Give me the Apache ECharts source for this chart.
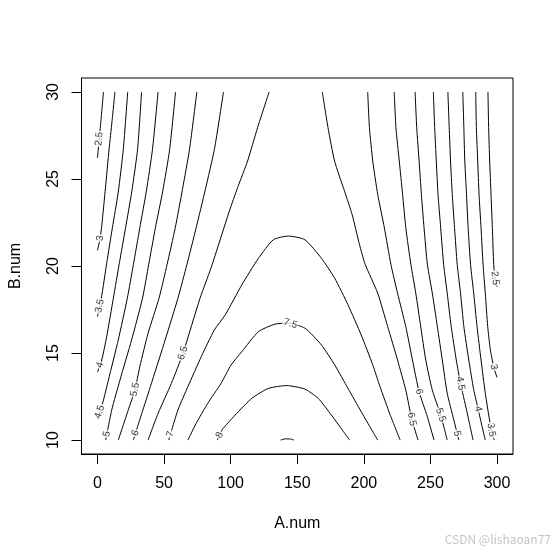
<!DOCTYPE html>
<html>
<head>
<meta charset="utf-8">
<script src="https://cdn.jsdelivr.net/npm/echarts@6/dist/echarts.min.js"></script>
<style>html,body{margin:0;padding:0;background:#fff}#main{width:553px;height:552px}</style>
</head>
<body>
<div id="main"></div>
<script>
// ---- tick values ----
const xTicks = [0, 50, 100, 150, 200, 250, 300];
const yTicks = [10, 15, 20, 25, 30];

// ---- contour lines: [A.num, B.num] ----
const c25L = [[4.5,30],[2.3,28.1],[0,26.2]];
const c30L = [[13.1,30],[10.9,28.3],[8.7,26.7],[6,24.5],[3.2,22.3],[2,21.6],[0,20.9]];
const c35L = [[22.7,30],[19.4,26.7],[15.5,24.2],[11.2,22.2],[7,20.2],[2.9,18.15],[0,17.1]];
const c40L = [[33.1,30],[30.1,26.7],[25.8,24.3],[21.1,22.2],[16.5,20.2],[11.9,18.15],[6.9,15.94],[3.2,14.6],[0,13.9]];
const c45L = [[45.5,30],[41.3,26.7],[36.7,24.3],[31.8,22.2],[27,20.1],[22.4,18.15],[15.6,15.75],[8.2,13.45],[4.5,12.3],[0,11.2]];
const c50L = [[58.6,30],[54.2,26.7],[49,24.3],[43.5,22.2],[38.5,20.1],[33.8,18.15],[25.6,15.75],[16.9,13.45],[10.7,11.73],[6.2,10]];
const c55L = [[74.6,30],[69.1,26.7],[63.8,24.4],[58.4,22.2],[52.3,20.1],[46.2,18.15],[38,16.14],[31.8,14.22],[28.1,12.88],[23.1,11.73],[15.65,10]];
const c60L = [[94.6,30],[87.8,26.7],[81,24.4],[74.1,22.2],[67.2,20.1],[60.4,18.15],[50.8,15.75],[41.3,13.45],[34.1,11.73],[30.1,10.77],[26.9,10]];
const c65L = [[128.9,30],[120.2,27.95],[112.7,26.03],[105.2,24.5],[99,23.15],[85.3,19.9],[77,18.15],[64.2,14.99],[55.5,13.26],[45.5,11.53],[38,10]];
const c70 = [[53.5,10],[60.4,11.73],[67.9,13.07],[77.9,14.79],[87.8,16.33],[96,17.2],[108.4,18.92],[120.9,20.45],[132.1,21.51],[143.3,21.72],[155.7,21.51],[168.1,20.45],[178.1,19.3],[188.1,17.77],[198,16.04],[206.7,14.32],[212,13.1],[220,11.4],[227.3,10]];
const c75 = [[67.9,10],[74.1,10.96],[82.8,12.11],[92.8,13.26],[100.2,14.3],[108.4,15.08],[120.9,16.23],[133.3,16.66],[143.3,16.72],[155.7,16.43],[168.1,15.47],[178.1,14.32],[188.1,12.97],[198,11.63],[210.4,10]];
const c80 = [[90,10],[93.5,10.58],[103.4,11.44],[115.9,12.4],[128.4,12.97],[142,13.13],[155.7,12.93],[165.7,12.4],[175.6,11.44],[189.3,10]];
const c85 = [[137.5,10],[141,10.07],[145,10.06],[147.5,10]];
const c65R = [[168.8,30],[173.1,27.95],[178,26.03],[185.5,24.3],[191.2,22.96],[196.7,21.24],[201,20.1],[210.4,18.44],[217.9,16.52],[225.3,14.6],[231.5,12.87],[236,11.2],[240.7,10]];
const c60R = [[202.9,30],[204.2,27.95],[206.7,26.03],[210.4,24.12],[215.4,22.2],[220.3,20.1],[225.3,18.44],[231.5,16.52],[236.5,14.6],[241.5,12.78],[247.7,11.34],[252.7,10]];
const c55R = [[222.8,30],[224.1,27.95],[226.6,26.03],[229.1,24.12],[231.5,22.2],[235.3,20.1],[239,18.44],[242.7,16.52],[246.5,14.6],[251.4,12.87],[257.7,11.44],[262.6,10]];
const c50R = [[238.5,30],[239.7,27.95],[241.5,26.03],[243.2,24.12],[245.2,22.2],[247.7,20.1],[251.4,18.44],[255.2,16.52],[258.9,14.6],[262.6,12.69],[267.6,11.15],[271.3,10]];
const c45R = [[252.2,30],[253.2,27.95],[254.4,26.03],[255.7,24.12],[257.7,22.2],[259.9,20.1],[262.6,18.44],[265.6,16.52],[269.4,14.6],[272.6,13.26],[277.1,11.73],[282,10]];
const c40R = [[263.1,30],[264.1,27.95],[265.1,26.03],[266.4,24.12],[268.1,22.2],[270.1,20.1],[272.6,18.44],[275.1,16.52],[278.8,14.6],[282.5,12.89],[285.8,11.79],[288.8,10.77],[291.2,10]];
const c35R = [[274.3,30],[275.1,27.95],[275.8,26.03],[277.1,24.12],[278.3,22.2],[280.1,20.1],[282.5,18.44],[285,16.52],[288,14.6],[291.2,12.69],[295.7,10.58],[298,10]];
const c30R = [[284,30],[284.5,27.95],[285.5,26.03],[286.5,24.12],[288,22.2],[289.5,20.1],[291.2,18.44],[293,16.52],[295,15.2],[297.5,14.2],[300,13.6]];
const c25R = [[293.2,30],[293.7,27.95],[294.5,26.03],[295.5,24.12],[296.5,22.2],[297.5,20.1],[298.5,19.3],[300,18.8]];

const contourLevels = [2.5,3,3.5,4,4.5,5,5.5,6,6.5,7,7.5,8,8.5,6.5,6,5.5,5,4.5,4,3.5,3,2.5];
const contourLines  = [c25L,c30L,c35L,c40L,c45L,c50L,c55L,c60L,c65L,c70,c75,c80,c85,c65R,c60R,c55R,c50R,c45R,c40R,c35R,c30R,c25R];

// ---- contour labels ----
const labelText = ['2.5','3','3.5','4','4.5','5','5.5','6','6.5','7','7.5','8','6.5','6','5.5','5','4.5','4','3.5','3','2.5'];
const labelX = [1.2,2,2,2.2,2.5,7.2,28.1,28.5,64.2,54.5,145,91.5,236,241.5,257.7,270.1,272.6,285.8,295.7,297.5,298.5];
const labelY = [27.3,21.6,17.7,14.3,11.6,10.35,12.9,10.4,15,10.35,16.7,10.3,11.2,12.78,11.44,10.38,13.26,11.79,10.58,14.2,19.3];

const FONT = '"Liberation Sans", Arial, sans-serif';
const X_MIN = -12, X_MAX = 312, Y_MIN = 9.2, Y_MAX = 30.8;
const TICK_LEN = 10;
const chart = echarts.init(document.getElementById('main'), null, {renderer: 'canvas'});

const lineSeries = contourLines.map((pts) => ({
  type: 'line', data: pts, symbol: 'none', showSymbol: false, smooth: 0.2,
  lineStyle: {color: '#000', width: 1}, silent: true, z: 2, clip: true
}));

chart.setOption({
  animation: false,
  grid: {left: 79, right: 40, top: 78, bottom: 98, show: true, borderColor: '#000', borderWidth: 1},
  xAxis: {
    type: 'value', min: X_MIN, max: X_MAX,
    axisLine: {show: true, onZero: false, lineStyle: {color: '#000', width: 1}},
    splitLine: {show: false},
    axisTick: {show: true, inside: false, length: TICK_LEN, customValues: xTicks, lineStyle: {color: '#000', width: 1}},
    axisLabel: {customValues: xTicks, margin: 22, fontSize: 16, color: '#000', fontFamily: FONT},
    name: 'A.num', nameLocation: 'middle', nameGap: 62,
    nameTextStyle: {fontSize: 16, color: '#000', fontFamily: FONT}
  },
  yAxis: {
    type: 'value', min: Y_MIN, max: Y_MAX,
    axisLine: {show: true, onZero: false, lineStyle: {color: '#000', width: 1}},
    splitLine: {show: false},
    axisTick: {show: true, inside: false, length: TICK_LEN, customValues: yTicks, lineStyle: {color: '#000', width: 1}},
    axisLabel: {customValues: yTicks, margin: 20, rotate: 90, fontSize: 16, color: '#000', fontFamily: FONT},
    name: 'B.num', nameLocation: 'middle', nameGap: 57.5, nameRotate: 90,
    nameTextStyle: {fontSize: 16, color: '#000', fontFamily: FONT}
  },
  graphic: [{
    type: 'text', right: 2, top: 533,
    style: {text: 'CSDN @lishaoan77', fontSize: 12, fill: '#c4c4c4', fontFamily: '"Noto Sans CJK SC", "Noto Sans", sans-serif'}
  }],
  series: lineSeries
});

// snap each label onto its contour and orient it along the line
const toPx = (p) => chart.convertToPixel({gridIndex: 0}, p);
const labelData = labelText.map((t, i) => {
  const p = toPx([labelX[i], labelY[i]]);
  let best = null;
  contourLines.forEach((pts, ci) => {
    if (String(contourLevels[ci]) !== t) return;
    for (let k = 0; k < pts.length - 1; k++) {
      const a = toPx(pts[k]), b = toPx(pts[k + 1]);
      const dx = b[0] - a[0], dy = b[1] - a[1];
      const L2 = dx * dx + dy * dy || 1;
      let u = ((p[0] - a[0]) * dx + (p[1] - a[1]) * dy) / L2;
      u = Math.max(0, Math.min(1, u));
      const q = [a[0] + u * dx, a[1] + u * dy];
      const d = Math.hypot(q[0] - p[0], q[1] - p[1]);
      if (!best || d < best.d) best = {d, q, dx, dy};
    }
  });
  let ang = Math.atan2(-best.dy, best.dx) * 180 / Math.PI;
  if (ang > 90) ang -= 180;
  if (ang <= -90) ang += 180;
  const v = chart.convertFromPixel({gridIndex: 0}, best.q);
  return {value: v, name: t, label: {rotate: ang}};
});

chart.setOption({
  series: lineSeries.concat([{
    type: 'scatter', data: labelData, symbolSize: 0, silent: true, z: 5,
    label: {
      show: true, position: 'inside', formatter: '{b}', fontSize: 10, color: '#000',
      fontFamily: FONT, backgroundColor: '#fff', padding: [0, 1]
    },
    emphasis: {disabled: true}
  }])
});
</script>
</body>
</html>
